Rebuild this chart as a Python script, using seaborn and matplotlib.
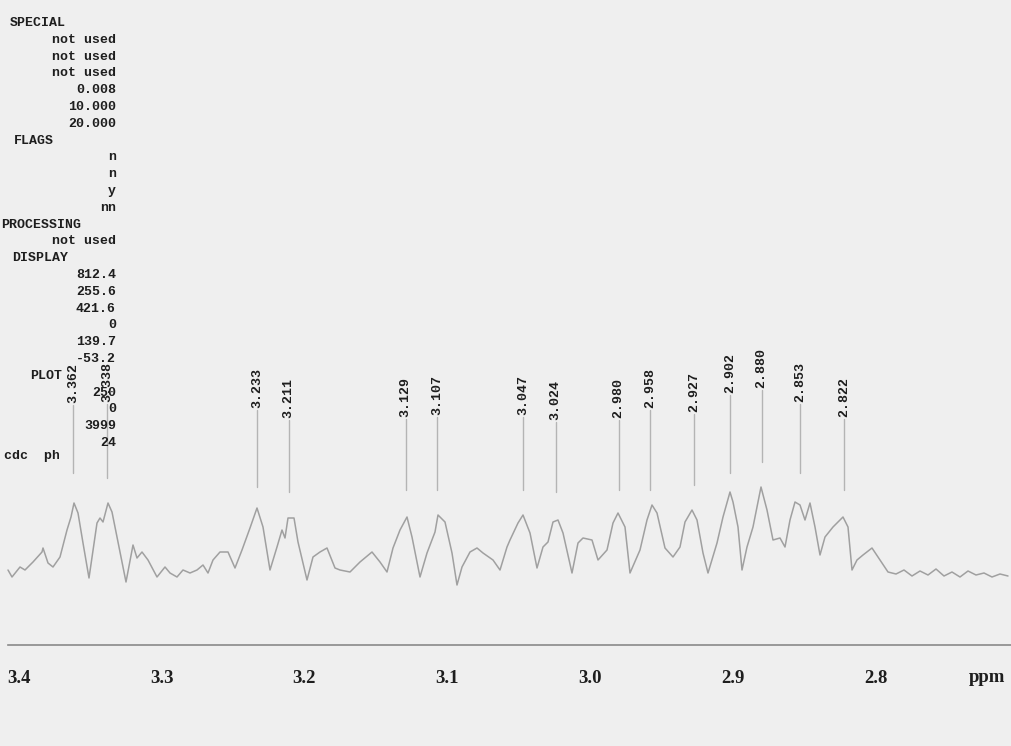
import numpy as np
import pandas as pd
import matplotlib
matplotlib.use("Agg")
import matplotlib.pyplot as plt
from matplotlib.ticker import MultipleLocator, FuncFormatter
import seaborn as sns

# ---------------- data ----------------
ppm = [3.4075, 3.4047, 3.3991, 3.3956, 3.3900, 3.3837, 3.3830, 3.3795, 3.3760, 3.3711,
       3.3662, 3.3634, 3.3613, 3.3585, 3.3550, 3.3508, 3.3452, 3.3431, 3.3410, 3.3375,
       3.3347, 3.3312, 3.3249, 3.3200, 3.3172, 3.3137, 3.3095, 3.3032, 3.2976, 3.2941,
       3.2892, 3.2850, 3.2801, 3.2752, 3.2710, 3.2675, 3.2640, 3.2591, 3.2535, 3.2486,
       3.2437, 3.2381, 3.2332, 3.2290, 3.2241, 3.2192, 3.2157, 3.2136, 3.2115, 3.2073,
       3.2045, 3.1982, 3.1940, 3.1891, 3.1842, 3.1786, 3.1751, 3.1681, 3.1611, 3.1527,
       3.1471, 3.1422, 3.1380, 3.1331, 3.1282, 3.1247, 3.1191, 3.1142, 3.1086, 3.1065,
       3.1016, 3.0967, 3.0932, 3.0897, 3.0841, 3.0792, 3.0750, 3.0680, 3.0631, 3.0582,
       3.0561, 3.0505, 3.0470, 3.0421, 3.0372, 3.0330, 3.0295, 3.0260, 3.0225, 3.0190,
       3.0127, 3.0085, 3.0050, 2.9987, 2.9945, 2.9882, 2.9840, 2.9805, 2.9756, 2.9721,
       2.9651, 2.9602, 2.9567, 2.9532, 2.9476, 2.9420, 2.9371, 2.9336, 2.9287, 2.9252,
       2.9210, 2.9175, 2.9112, 2.9070, 2.9021, 2.9000, 2.8965, 2.8937, 2.8902, 2.8860,
       2.8804, 2.8762, 2.8720, 2.8671, 2.8636, 2.8601, 2.8566, 2.8531, 2.8496, 2.8461,
       2.8426, 2.8391, 2.8356, 2.8300, 2.8230, 2.8195, 2.8167, 2.8132, 2.8090, 2.8027,
       2.7971, 2.7915, 2.7859, 2.7803, 2.7747, 2.7691, 2.7635, 2.7579, 2.7523, 2.7467,
       2.7411, 2.7355, 2.7299, 2.7243, 2.7187, 2.7131, 2.7075]
intensity = [5, -2, 8, 5, 13, 23, 27, 12, 8, 18,
             45, 58, 72, 62, 32, -3, 52, 57, 53, 72,
             63, 38, -7, 30, 17, 23, 15, -2, 8, 2,
             -2, 5, 2, 5, 10, 2, 15, 23, 23, 7,
             25, 47, 67, 48, 5, 28, 45, 37, 57, 57,
             33, -5, 18, 23, 27, 7, 5, 3, 13, 23,
             13, 3, 27, 45, 58, 38, -2, 22, 43, 60,
             53, 22, -10, 8, 23, 27, 22, 15, 5, 28,
             35, 52, 60, 42, 7, 28, 33, 53, 55, 42,
             2, 32, 37, 35, 15, 25, 52, 62, 48, 2,
             25, 55, 70, 62, 27, 18, 28, 53, 65, 55,
             22, 2, 32, 58, 83, 73, 48, 5, 28, 48,
             88, 65, 35, 37, 28, 55, 73, 70, 55, 72,
             48, 20, 38, 48, 58, 48, 5, 15, 20, 27,
             15, 3, 1, 5, -1, 4, 0, 6, -1, 3,
             -2, 4, 0, 2, -2, 1, -1]

peak_ppm = [3.362, 3.338, 3.233, 3.211, 3.129, 3.107, 3.047, 3.024,
            2.980, 2.958, 2.927, 2.902, 2.880, 2.853, 2.822]
peak_labels = ["3.362", "3.338", "3.233", "3.211", "3.129", "3.107", "3.047", "3.024",
               "2.980", "2.958", "2.927", "2.902", "2.880", "2.853", "2.822"]
label_top = [172, 173, 167, 157, 158, 160, 160, 155, 157, 167, 163, 182, 187, 173, 158]
line_bottom = [102, 97, 88, 83, 85, 85, 85, 83, 85, 85, 90, 102, 113, 102, 85]

tick_values = [3.4, 3.3, 3.2, 3.1, 3.0, 2.9, 2.8]
axis_unit = "ppm"

param_text = ["SPECIAL", "not used", "not used", "not used", "0.008", "10.000", "20.000",
              "FLAGS", "n", "n", "y", "nn", "PROCESSING", "not used", "DISPLAY",
              "812.4", "255.6", "421.6", "0", "139.7", "-53.2", "PLOT",
              "250", "0", "3999", "24"]
footer_text = "cdc  ph"

# ---------------- style ----------------
BG = "#efefef"
INK = "#1e1e1e"
MONO = ["Liberation Mono", "DejaVu Sans Mono"]
SERIF = ["Liberation Serif", "DejaVu Serif"]
sns.set_theme(style="white")
plt.rcParams["font.family"] = MONO

fig = plt.figure(figsize=(10.11, 7.46), dpi=100, facecolor=BG)
ax = fig.add_axes([0, 0, 1, 1], facecolor=BG)

df = pd.DataFrame({"ppm": ppm, "intensity": intensity})
sns.lineplot(data=df, x="ppm", y="intensity", ax=ax, color="#a0a0a0",
             linewidth=1.1, estimator=None, sort=False)

ax.set_xlim(3.4131, 2.7054)
ax.set_ylim(-171, 575)

# peak markers
for p, lab, top, bot in zip(peak_ppm, peak_labels, label_top, line_bottom):
    ax.plot([p, p], [bot, top - 2], color="#b4b4b4", linewidth=1.0)
    ax.text(p, top, lab, rotation=90, ha="center", va="bottom",
            fontsize=9.5, fontweight="bold", color=INK, family=MONO)

# axis
for s in ["top", "left", "right"]:
    ax.spines[s].set_visible(False)
ax.spines["bottom"].set_position(("data", -70))
ax.spines["bottom"].set_color("#8a8a8a")
ax.spines["bottom"].set_linewidth(1.2)
ax.spines["bottom"].set_bounds(3.4075, 2.7054)
ax.set_yticks([])
ax.xaxis.set_major_locator(MultipleLocator(0.05))
ax.xaxis.set_minor_locator(MultipleLocator(0.01))
labset = {round(v, 2) for v in tick_values}
ax.xaxis.set_major_formatter(FuncFormatter(
    lambda v, pos: f"{v:.1f}" if round(v, 2) in labset else ""))
ax.tick_params(axis="x", which="major", direction="out", length=7, width=1,
               color="#8a8a8a", pad=11, labelsize=13.5, labelcolor=INK)
ax.tick_params(axis="x", which="minor", direction="out", length=4, width=0.8,
               color="#9a9a9a")
for t in ax.get_xticklabels():
    t.set_fontfamily(SERIF)
    t.set_fontweight("bold")
ax.set_xlabel("")
ax.set_ylabel("")
ax.text(2.7225, -94, axis_unit, ha="center", va="top",
        fontsize=13.5, fontweight="bold", color=INK, family=SERIF)

# parameter listing
W, H = 1011.0, 746.0
left_rows = {"SPECIAL": 10, "FLAGS": 14, "PROCESSING": 1, "DISPLAY": 12, "PLOT": 30}
for i, s in enumerate(param_text):
    y = 23 + 16.8 * i
    if s in left_rows:
        fig.text(left_rows[s] / W, 1 - y / H, s, ha="left", va="center",
                 fontsize=9.5, fontweight="bold", color=INK)
    else:
        fig.text(116 / W, 1 - y / H, s, ha="right", va="center",
                 fontsize=9.5, fontweight="bold", color=INK)
fig.text(4 / W, 1 - 456 / H, footer_text, ha="left", va="center",
         fontsize=9.5, fontweight="bold", color=INK)

fig.savefig("out.png", dpi=100, facecolor=BG)
